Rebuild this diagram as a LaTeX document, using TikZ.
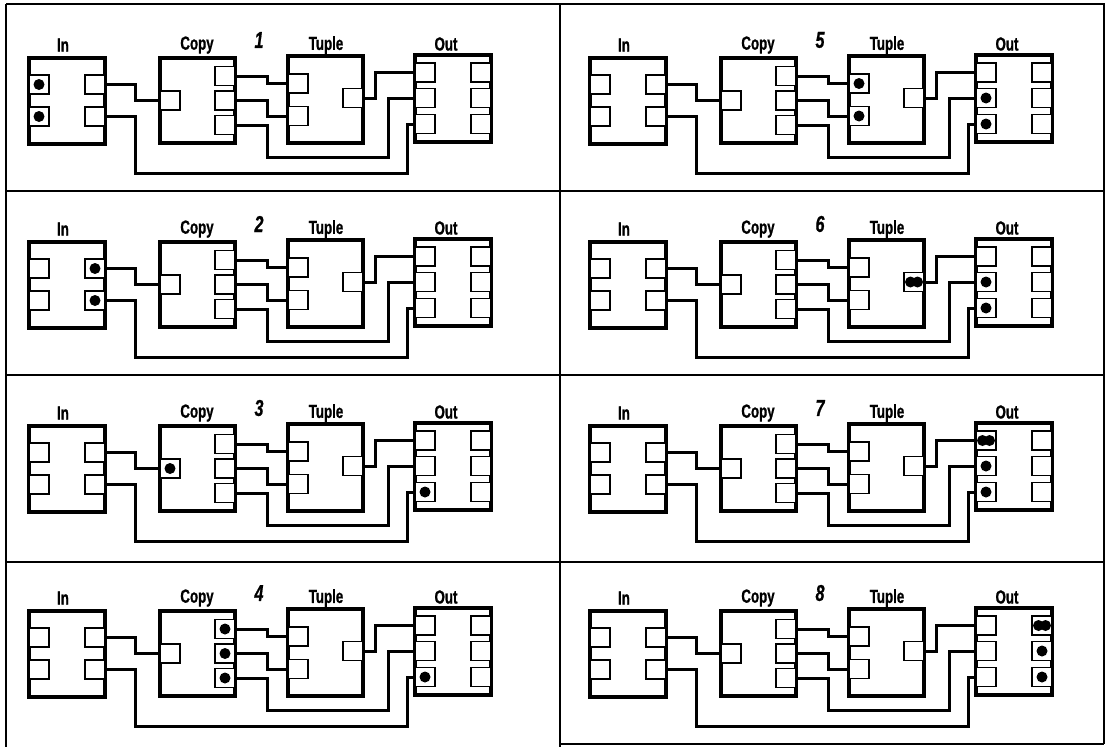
\documentclass[tikz,border=0pt]{standalone}
\usepackage{fontspec}
\setmainfont{Liberation Sans}[FakeStretch=0.72]
\newfontfamily\lblfont{Liberation Sans}[FakeStretch=0.70,FakeBold=0.8]
\tikzset{
  blk/.style={draw, line width=4pt, fill=white, inner sep=0pt},
  port/.style={draw, line width=1.8pt, fill=white, minimum width=20pt, minimum height=19pt, inner sep=0pt},
  wire/.style={line width=3pt},
  lbl/.style={font=\lblfont\fontsize{19}{19}\selectfont\bfseries, inner sep=0pt},
  num/.style={font=\lblfont\fontsize{23}{23}\selectfont\bfseries\itshape, inner sep=0pt},
  frame/.style={line width=1.5pt},
}
\newcommand\drawpanel[4]{%
\begin{scope}[shift={(#2,#3)}]
  % wires
  \draw[wire] (#1-inR1.east) -- ++(30,0) |- (#1-cL.west);
  \draw[wire] (#1-inR2.east) -| (135,173) -- (407,173) |- (#1-oL3.west);
  \draw[wire] (#1-cR1.east) -- ++(32,0) |- (#1-tL1.west);
  \draw[wire] (#1-cR2.east) -- ++(32,0) |- (#1-tL2.west);
  \draw[wire] (#1-cR3.east) -| (267,157) -- (388,157) |- (#1-oL2.west);
  \draw[wire] (#1-tR.east) -- ++(12,0) |- (#1-oL1.west);
\end{scope}}
\newcommand\drawblocks[4]{%
\begin{scope}[shift={(#2,#3)}]
  \node[blk, minimum width=76pt, minimum height=86pt] (#1-in) at (67,101) {};
  \node[blk, minimum width=75pt, minimum height=85pt] (#1-c) at (197.5,100.5) {};
  \node[blk, minimum width=75pt, minimum height=87pt] (#1-t) at (325.5,99.5) {};
  \node[blk, minimum width=76pt, minimum height=87pt] (#1-o) at (453,98.5) {};
  \node[port] (#1-inL1) at (39,84.5) {};
  \node[port] (#1-inL2) at (39,116.5) {};
  \node[port] (#1-inR1) at (95,84.5) {};
  \node[port] (#1-inR2) at (95,116.5) {};
  \node[port] (#1-cL) at (170,100.5) {};
  \node[port] (#1-cR1) at (225,76) {};
  \node[port] (#1-cR2) at (225,100.5) {};
  \node[port] (#1-cR3) at (225,125) {};
  \node[port] (#1-tL1) at (298,83.5) {};
  \node[port] (#1-tL2) at (298,116) {};
  \node[port] (#1-tR) at (353,98) {};
  \node[port] (#1-oL1) at (425,72.5) {};
  \node[port] (#1-oL2) at (425,98) {};
  \node[port] (#1-oL3) at (425,124) {};
  \node[port] (#1-oR1) at (481,72.5) {};
  \node[port] (#1-oR2) at (481,98) {};
  \node[port] (#1-oR3) at (481,124) {};
  \node[lbl] (#1-lin) at (63,45) {In};
  \node[lbl] (#1-lc) at (197,45) {Copy};
  \node[lbl] (#1-lt) at (326,45) {Tuple};
  \node[lbl] (#1-lo) at (446,44) {Out};
  \node[num] (#1-num) at (259,40) {#4};
\end{scope}}
\newcommand\tok[1]{\fill (#1) circle (5.5pt);}
\newcommand\tokpair[1]{\fill ([xshift=-3.5pt]#1) circle (5.5pt) ([xshift=3.5pt]#1) circle (5.5pt);}
\begin{document}
\begin{tikzpicture}[x=1pt,y=-1pt]
  \useasboundingbox[fill=white] (0,0) rectangle (1107,747);
  % frame
  \draw[frame] (6,4) -- (1104,4) -- (1104,744);
  \draw[frame] (6,4) -- (6,747);
  \draw[frame] (560,4) -- (560,747);
  \draw[frame] (6,191) -- (1104,191);
  \draw[frame] (6,375) -- (1104,375);
  \draw[frame] (6,562) -- (1104,562);
  \draw[frame] (560,744) -- (1104,744);
  % blocks (nodes first, so wires can refer to them)
  \drawblocks{p1}{0}{0}{1}
  \drawblocks{p2}{0}{184}{2}
  \drawblocks{p3}{0}{368}{3}
  \drawblocks{p4}{0}{553}{4}
  \drawblocks{p5}{561}{0}{5}
  \drawblocks{p6}{561}{184}{6}
  \drawblocks{p7}{561}{368}{7}
  \drawblocks{p8}{561}{553}{8}
  \drawpanel{p1}{0}{0}{1}
  \drawpanel{p2}{0}{184}{2}
  \drawpanel{p3}{0}{368}{3}
  \drawpanel{p4}{0}{553}{4}
  \drawpanel{p5}{561}{0}{5}
  \drawpanel{p6}{561}{184}{6}
  \drawpanel{p7}{561}{368}{7}
  \drawpanel{p8}{561}{553}{8}
  % tokens
  \tok{p1-inL1} \tok{p1-inL2}
  \tok{p2-inR1} \tok{p2-inR2}
  \tok{p3-cL} \tok{p3-oL3}
  \tok{p4-cR1} \tok{p4-cR2} \tok{p4-cR3} \tok{p4-oL3}
  \tok{p5-tL1} \tok{p5-tL2} \tok{p5-oL2} \tok{p5-oL3}
  \tokpair{p6-tR} \tok{p6-oL2} \tok{p6-oL3}
  \tokpair{p7-oL1} \tok{p7-oL2} \tok{p7-oL3}
  \tokpair{p8-oR1} \tok{p8-oR2} \tok{p8-oR3}
\end{tikzpicture}
\end{document}
